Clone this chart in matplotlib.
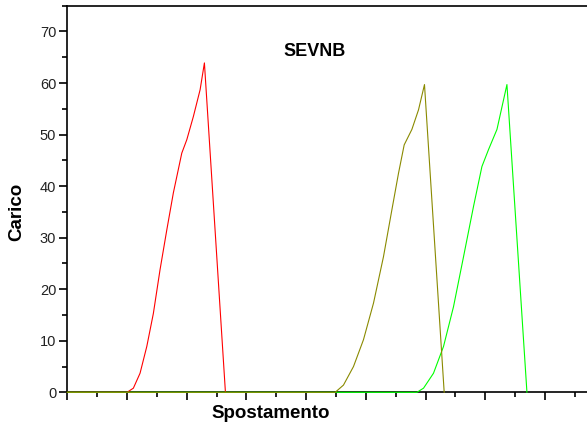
import matplotlib
matplotlib.use("Agg")
import matplotlib.pyplot as plt
from matplotlib.ticker import MultipleLocator

plt.rcParams['font.family'] = ['Liberation Sans', 'DejaVu Sans']

# Curve data (displacement in major-tick units, load)
red_x = [0.0, 1.00, 1.106, 1.218, 1.331, 1.441, 1.553, 1.666, 1.776, 1.917, 2.001, 2.111, 2.224, 2.296, 2.648]
red_y = [0.0, 0.0, 0.8, 3.7, 8.9, 15.3, 23.8, 31.5, 38.7, 46.4, 49.0, 53.5, 58.7, 63.9, 0.0]

olive_x = [0.0, 4.486, 4.625, 4.793, 4.960, 5.128, 5.295, 5.436, 5.547, 5.642, 5.771, 5.882, 5.982, 6.312]
olive_y = [0.0, 0.0, 1.4, 5.0, 10.2, 17.3, 26.3, 35.4, 42.5, 48.0, 51.0, 54.8, 59.7, 0.0]

green_x = [0.0, 5.855, 5.966, 6.133, 6.301, 6.468, 6.636, 6.804, 6.944, 7.055, 7.196, 7.363, 7.698]
green_y = [0.0, 0.0, 0.8, 3.7, 8.9, 16.6, 26.3, 36.1, 43.8, 47.1, 51.0, 59.7, 0.0]

fig = plt.figure(figsize=(5.87, 4.28), dpi=100)
ax = fig.add_axes([0.1147, 0.0834, 0.8853, 0.9033])

ax.plot(red_x, red_y, color='#ff0000', lw=0.8, clip_on=False, zorder=3)
ax.plot(green_x, green_y, color='#00ff00', lw=0.8, clip_on=False, zorder=3)
ax.plot(olive_x, olive_y, color='#8a8a00', lw=0.8, clip_on=False, zorder=3)

ax.set_xlim(0, 8.704)
ax.set_ylim(0, 75)

ax.xaxis.set_major_locator(MultipleLocator(1))
ax.xaxis.set_minor_locator(MultipleLocator(0.5))
ax.yaxis.set_major_locator(MultipleLocator(10))
ax.yaxis.set_minor_locator(MultipleLocator(5))
ax.tick_params(which='major', direction='out', length=6, width=1.2, labelsize=10.5,
               labelcolor='#222222')
ax.tick_params(which='minor', direction='out', length=3.5, width=1.2)
ax.tick_params(axis='x', labelbottom=False)
ax.tick_params(axis='y', pad=2)

ax.spines['right'].set_visible(False)
for s in ['left', 'bottom', 'top']:
    ax.spines[s].set_linewidth(1.2)

ax.text(0.476, 0.881, 'SEVNB', transform=ax.transAxes, ha='center', va='center',
        fontsize=13, fontweight='bold')
fig.text(0.029, 0.505, 'Carico', rotation=90, ha='center', va='center',
         fontsize=13.5, fontweight='bold')
fig.text(0.4617, 0.033, 'Spostamento', ha='center', va='center',
         fontsize=13.5, fontweight='bold')

fig.savefig('out.png', dpi=100)
